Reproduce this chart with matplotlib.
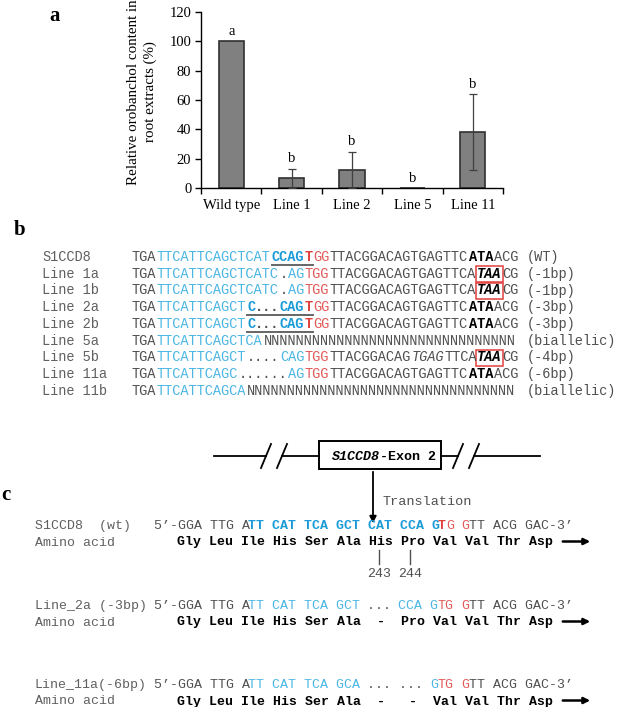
import numpy as np
import matplotlib
matplotlib.use("Agg")
import matplotlib.pyplot as plt
from matplotlib.patches import Rectangle, FancyArrowPatch
from matplotlib.lines import Line2D

#----------------------------------- DATA
groups = ["Wild type", "Line 1", "Line 2", "Line 5", "Line 11"]
orobanchol = [100, 6.5, 12.3, 0, 38]
orobanchol_err = [0, 6.5, 12.3, 0, 25.8]
letters = ["a", "b", "b", "b", "b"]

# panel b: (text, style, mark)
b_names = ["S1CCD8", "Line 1a", "Line 1b", "Line 2a", "Line 2b",
           "Line 5a", "Line 5b", "Line 11a", "Line 11b"]
b_rows = [
    [("TGA", "g", ""), ("TTCATTCAGCTCAT", "lb", ""), ("CCAG", "bb", "u"), ("T", "rb", "u"),
     ("GG", "r", ""), ("TTACGGACAGTGAGTTC", "g", ""), ("ATA", "kb", ""), ("ACG", "g", "")],
    [("TGA", "g", ""), ("TTCATTCAGCTCATC", "lb", ""), (".", "g", ""), ("AG", "lb", ""),
     ("TGG", "r", ""), ("TTACGGACAGTGAGTTCA", "g", ""), ("TAA", "kbi", "box"), ("CG", "g", "")],
    [("TGA", "g", ""), ("TTCATTCAGCTCATC", "lb", ""), (".", "g", ""), ("AG", "lb", ""),
     ("TGG", "r", ""), ("TTACGGACAGTGAGTTCA", "g", ""), ("TAA", "kbi", "box"), ("CG", "g", "")],
    [("TGA", "g", ""), ("TTCATTCAGCT", "lb", ""), ("C", "bb", "u"), ("...", "gb", "u"),
     ("CAG", "bb", "u"), ("T", "rb", "u"), ("GG", "r", ""), ("TTACGGACAGTGAGTTC", "g", ""),
     ("ATA", "kb", ""), ("ACG", "g", "")],
    [("TGA", "g", ""), ("TTCATTCAGCT", "lb", ""), ("C", "bb", "u"), ("...", "gb", "u"),
     ("CAG", "bb", "u"), ("T", "rb", "u"), ("GG", "r", ""), ("TTACGGACAGTGAGTTC", "g", ""),
     ("ATA", "kb", ""), ("ACG", "g", "")],
    [("TGA", "g", ""), ("TTCATTCAGCTCA", "lb", ""), ("N" * 31, "g", "")],
    [("TGA", "g", ""), ("TTCATTCAGCT", "lb", ""), ("....", "g", ""), ("CAG", "lb", ""),
     ("TGG", "r", ""), ("TTACGGACAG", "g", ""), ("TGAG", "gi", ""), ("TTCA", "g", ""),
     ("TAA", "kbi", "box"), ("CG", "g", "")],
    [("TGA", "g", ""), ("TTCATTCAGC", "lb", ""), ("......", "g", ""), ("AG", "lb", ""),
     ("TGG", "r", ""), ("TTACGGACAGTGAGTTC", "g", ""), ("ATA", "kb", ""), ("ACG", "g", "")],
    [("TGA", "g", ""), ("TTCATTCAGCA", "lb", ""), ("N" * 33, "g", "")],
]
b_notes = ["(WT)", "(-1bp)", "(-1bp)", "(-3bp)", "(-3bp)",
           "(biallelic)", "(-4bp)", "(-6bp)", "(biallelic)"]

# panel c
c_labels = ["S1CCD8  (wt)", "Line_2a (-3bp)", "Line_11a(-6bp)"]
c_seqs = [
    [("5\u2019-GGA TTG A", "g", ""), ("TT CAT TCA GCT CAT CCA G", "bb", ""), ("T", "rb", ""),
     ("G", "r", ""), (" ", "g", ""), ("G", "r", ""), ("TT ACG GAC-3\u2019", "g", "")],
    [("5\u2019-GGA TTG A", "g", ""), ("TT CAT TCA GCT", "lb", ""), (" ... ", "g", ""),
     ("CCA G", "lb", ""), ("TG", "r", ""), (" ", "g", ""), ("G", "r", ""), ("TT ACG GAC-3\u2019", "g", "")],
    [("5\u2019-GGA TTG A", "g", ""), ("TT CAT TCA GCA", "lb", ""), (" ... ... ", "g", ""),
     ("G", "lb", ""), ("TG", "r", ""), (" ", "g", ""), ("G", "r", ""), ("TT ACG GAC-3\u2019", "g", "")],
]
c_amino = ["Gly Leu Ile His Ser Ala His Pro Val Val Thr Asp",
           "Gly Leu Ile His Ser Ala  -  Pro Val Val Thr Asp",
           "Gly Leu Ile His Ser Ala  -   -  Val Val Thr Asp"]
c_residues = ["243", "244"]
c_residue_codons = [6, 7]

#----------------------------------- STYLE
W, H = 622, 707
SERIF = "Liberation Serif"
MONO = "Liberation Mono"
GRAY = "#505050"
LGRAY = "#606060"
LBLUE = "#4cb6e4"
BLUE = "#1b9bd8"
RED = "#e0403c"
STYLES = {
    "g": dict(color=GRAY),
    "gb": dict(color=GRAY, weight="bold"),
    "gi": dict(color=GRAY, style="italic"),
    "lb": dict(color=LBLUE),
    "bb": dict(color=BLUE, weight="bold"),
    "rb": dict(color=RED, weight="bold"),
    "r": dict(color="#e25a58"),
    "kb": dict(color="black", weight="bold"),
    "kbi": dict(color="black", weight="bold", style="italic"),
}

fig = plt.figure(figsize=(W / 100, H / 100), dpi=100)


def fx(x):
    return x / W


def fy(y):
    return 1 - y / H


def put(x, y, s, **kw):
    fig.text(fx(x), fy(y), s, **kw)


def draw_segments(x0, y, cw, size, segs):
    col = 0
    for text, st, mark in segs:
        put(x0 + col * cw, y + 4, text, family=MONO, fontsize=size,
            ha="left", va="baseline", **STYLES[st])
        c0, c1 = col, col + len(text)
        if mark == "u":
            fig.add_artist(Line2D([fx(x0 + c0 * cw), fx(x0 + c1 * cw)], [fy(y + 7.5)] * 2,
                                  transform=fig.transFigure, color="#666666", lw=1.4))
        if mark == "box":
            fig.add_artist(Rectangle((fx(x0 + c0 * cw - 1), fy(y + 8)), (c1 - c0) * cw / W + 2 / W,
                                     16 / H, transform=fig.transFigure, fill=False,
                                     ec=RED, lw=1.1))
        col = c1
    return col


#----------------------------------- PANEL A (bar chart)
ax = fig.add_axes([fx(201), fy(188), 302 / W, 176 / H])
x = np.arange(len(groups))
ax.bar(x, orobanchol, width=0.42, color="#808080", edgecolor="#303030", linewidth=1.2, zorder=2)
has_err = [i for i in x if orobanchol_err[i] > 0]
ax.errorbar(x[has_err], np.array(orobanchol)[has_err], yerr=np.array(orobanchol_err)[has_err],
            fmt="none", ecolor="#404040", elinewidth=0.9, capsize=3, capthick=0.9, zorder=3)
for i in x:
    ax.annotate(letters[i], (i, orobanchol[i] + orobanchol_err[i]), xytext=(0, 2.5),
                textcoords="offset points", ha="center", va="bottom",
                family=SERIF, fontsize=10.5)
ax.set_xlim(-0.5, len(groups) - 0.5)
ax.set_ylim(0, 120)
ax.set_yticks(np.arange(0, 121, 20))
ax.set_xticks(np.arange(-0.5, len(groups), 1.0))
ax.set_xticklabels([])
ax.set_xticks(x, minor=True)
ax.set_xticklabels(groups, minor=True)
ax.tick_params(axis="x", which="major", direction="out", length=4, width=1)
ax.tick_params(axis="x", which="minor", length=0, pad=8)
ax.tick_params(axis="y", direction="out", length=4, width=1, pad=3)
for lab in ax.get_xticklabels(minor=True) + ax.get_yticklabels():
    lab.set_family(SERIF)
    lab.set_fontsize(10.5)
for s in ["top", "right"]:
    ax.spines[s].set_visible(False)
for s in ["left", "bottom"]:
    ax.spines[s].set_linewidth(1.0)
put(142, 92, "Relative orobanchol content in\nroot extracts (%)", family=SERIF,
    fontsize=10.8, rotation=90, ha="center", va="center", multialignment="center",
    linespacing=1.35)
put(55, 16, "a", family=SERIF, fontsize=15, weight="bold", ha="center", va="center")

#----------------------------------- PANEL B (alignment)
put(20, 230, "b", family=SERIF, fontsize=15, weight="bold", ha="center", va="center")
bx0, bcw, bsize = 132, 8.22, 9.85
for i, (name, segs, note) in enumerate(zip(b_names, b_rows, b_notes)):
    y = 257 + i * 16.75
    put(42, y + 4, name, family=MONO, fontsize=bsize, color=LGRAY, ha="left", va="baseline")
    n = draw_segments(bx0, y, bcw, bsize, segs)
    put(bx0 + (n + 1) * bcw, y + 4, note, family=MONO, fontsize=bsize, color=GRAY,
        ha="left", va="baseline")

#----------------------------------- PANEL C (gene + translation)
ly = 456
for xa, xb in [(214, 266), (282, 319), (441, 458), (474, 540)]:
    fig.add_artist(Line2D([fx(xa), fx(xb)], [fy(ly)] * 2, transform=fig.transFigure,
                          color="black", lw=1.3))
for xs in [266, 282, 458, 474]:
    fig.add_artist(Line2D([fx(xs - 5), fx(xs + 5)], [fy(ly + 12), fy(ly - 12)],
                          transform=fig.transFigure, color="black", lw=1.3))
fig.add_artist(Rectangle((fx(319), fy(469)), 122 / W, 28 / H, transform=fig.transFigure,
                         fill=False, ec="black", lw=1.4))
put(380, ly + 4, "S1CCD8", family=MONO, fontsize=9.6, weight="bold", style="italic",
    ha="right", va="baseline")
put(380, ly + 4, "-Exon 2", family=MONO, fontsize=9.6, weight="bold", ha="left", va="baseline")
fig.add_artist(FancyArrowPatch((fx(373), fy(469)), (fx(373), fy(526)), transform=fig.transFigure,
                               arrowstyle="-|>", mutation_scale=10, lw=1.3, color="black"))
put(383, 505, "Translation", family=MONO, fontsize=9.7, color=GRAY, ha="left", va="baseline")
put(6, 495, "c", family=SERIF, fontsize=15, weight="bold", ha="center", va="center")

cx_lab, ccw, csize = 35, 7.9, 9.5
cx0 = cx_lab + 15 * ccw
c_rows_y = [525, 605, 684]
for label, segs, amino, y in zip(c_labels, c_seqs, c_amino, c_rows_y):
    put(cx_lab, y + 4, label, family=MONO, fontsize=csize, color=LGRAY, ha="left", va="baseline")
    draw_segments(cx0, y, ccw, csize, segs)
    ya = y + 16.5
    put(cx_lab, ya + 4, "Amino acid", family=MONO, fontsize=csize, color=LGRAY,
        ha="left", va="baseline")
    put(cx0 + 3 * ccw, ya + 4, amino, family=MONO, fontsize=csize, weight="bold",
        color="black", ha="left", va="baseline")
    fig.add_artist(FancyArrowPatch((fx(560), fy(ya)), (fx(593), fy(ya)), transform=fig.transFigure,
                                   arrowstyle="-|>", mutation_scale=9, lw=1.8, color="black"))

for num, k in zip(c_residues, c_residue_codons):
    xc = cx0 + (3 + 4 * k + 1.5) * ccw
    fig.add_artist(Line2D([fx(xc)] * 2, [fy(550), fy(564)], transform=fig.transFigure,
                          color=GRAY, lw=1.0))
    put(xc, 577, num, family=MONO, fontsize=csize, color=GRAY, ha="center", va="baseline")

plt.savefig("out.png", dpi=100)
